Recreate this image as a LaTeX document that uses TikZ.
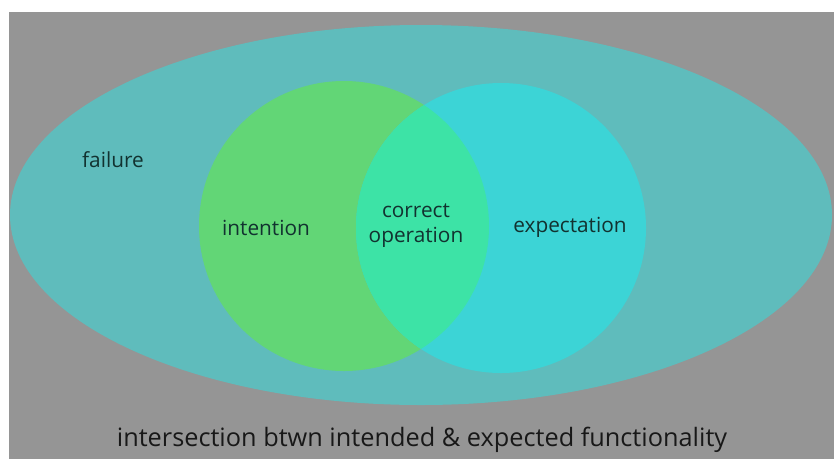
\documentclass[tikz,border=0pt]{standalone}
\usepackage{fontspec}
\setmainfont{Open Sans}
\definecolor{bgwhite}{HTML}{FFFFFF}
\definecolor{bggray}{HTML}{959595}
\definecolor{outerteal}{HTML}{5FBCBC}
\definecolor{intgreen}{HTML}{62D676}
\definecolor{expcyan}{HTML}{3CD4D6}
\definecolor{lensgreen}{HTML}{3DE3A6}
\definecolor{labeldark}{HTML}{123230}
\definecolor{captiondark}{HTML}{181818}
\tikzset{
  lbl/.style={inner sep=0pt, text=labeldark, font=\fontsize{20.8}{25}\selectfont, align=center},
  captionstyle/.style={inner sep=0pt, text=captiondark, font=\fontsize{25.3}{30}\selectfont}
}
\begin{document}
\begin{tikzpicture}[x=1pt,y=-1pt]
\useasboundingbox (0,0) rectangle (834,459);
\fill[bgwhite] (0,0) rectangle (834,459);
\fill[bggray] (9,12) rectangle (834,459);
\fill[outerteal] (421,215) ellipse [x radius=411, y radius=190];
\fill[intgreen] (344,226) circle [radius=145];
\fill[expcyan] (501,228) circle [radius=145];
\begin{scope}
  \clip (344,226) circle [radius=145];
  \fill[lensgreen] (501,228) circle [radius=145];
\end{scope}
\node[lbl] (failure) at (113,160) {failure};
\node[lbl] (intention) at (266,228) {intention};
\node[lbl] (correct) at (416,226) {correct\\operation};
\node[lbl] (expectation) at (570,227) {expectation};
\node[captionstyle] (caption) at (422,440) {intersection btwn intended \& expected functionality};
\end{tikzpicture}
\end{document}
